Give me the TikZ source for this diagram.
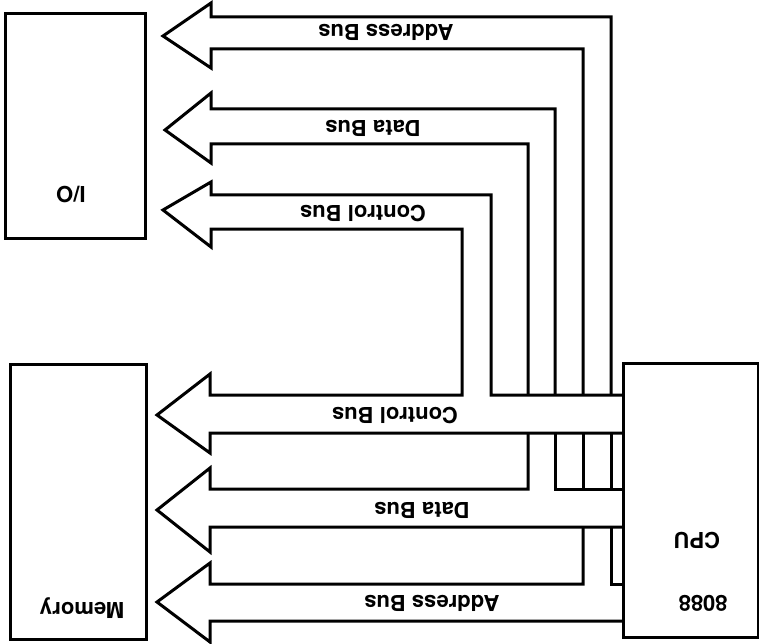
\documentclass[tikz,border=0pt]{standalone}
\usepackage{fontspec}
\setmainfont{TeX Gyre Heros}
\tikzset{
  unit/.style={draw, line width=3pt, inner sep=0pt, anchor=north west},
  bus/.style={line width=3pt, line join=miter},
  lbl/.style={rotate=180, inner sep=0pt, text height=15.8pt, text depth=0pt,
    font=\bfseries\fontsize{22}{22}\selectfont}
}

\begin{document}
\begin{tikzpicture}[x=1pt, y=-1pt]

  \useasboundingbox (0,0) rectangle (759,644);

  % units
  \node[unit, minimum width=140pt, minimum height=225pt] (io)  at (4,12)    {};
  \node[unit, minimum width=136pt, minimum height=275pt] (mem) at (9,363)   {};
  \node[unit, minimum width=135pt, minimum height=274pt] (cpu) at (622,362) {};

  \node[lbl] (iotext)  at (71,194)  {I/O};
  \node[lbl] (memtext) at (82,610)  {Memory};
  \node[lbl] (cputext) at (697,540) {CPU};
  \node[lbl] (cpunum)  at (703,603) {8088};

  % control bus
  \draw[bus] (cpu.west |- 0,395) -- (491,395) -- (491,195) -- (211,195) -- (211,182)
    -- (163,210) -- (211,247) -- (211,229) -- (462,229) -- (462,395) -- (210,395)
    -- (210,374) -- (157,415) -- (210,453) -- (210,433) -- (cpu.west |- 0,433);

  % data bus
  \draw[bus] (cpu.west |- 0,489) -- (555,489) -- (555,433);
  \draw[bus] (555,395) -- (555,109) -- (211,109) -- (211,93) -- (165,130)
    -- (211,163) -- (211,144) -- (528,144) -- (528,395);
  \draw[bus] (528,433) -- (528,489) -- (210,489) -- (210,468) -- (157,510)
    -- (210,552) -- (210,527) -- (cpu.west |- 0,527);

  % address bus
  \draw[bus] (cpu.west |- 0,584) -- (611,584) -- (611,527);
  \draw[bus] (611,489) -- (611,433);
  \draw[bus] (611,395) -- (611,17) -- (211,17) -- (211,3) -- (163,36)
    -- (211,68) -- (211,49) -- (583,49) -- (583,395);
  \draw[bus] (583,433) -- (583,489);
  \draw[bus] (583,527) -- (583,584) -- (210,584) -- (210,563) -- (157,602)
    -- (210,642) -- (210,621) -- (cpu.west |- 0,621);

  % bus names
  \node[lbl] (abus1) at (386,32)  {Address Bus};
  \node[lbl] (dbus1) at (373,128) {Data Bus};
  \node[lbl] (cbus1) at (363,213) {Control Bus};
  \node[lbl] (cbus2) at (395,415) {Control Bus};
  \node[lbl] (dbus2) at (422,510) {Data Bus};
  \node[lbl] (abus2) at (432,603) {Address Bus};

\end{tikzpicture}
\end{document}
